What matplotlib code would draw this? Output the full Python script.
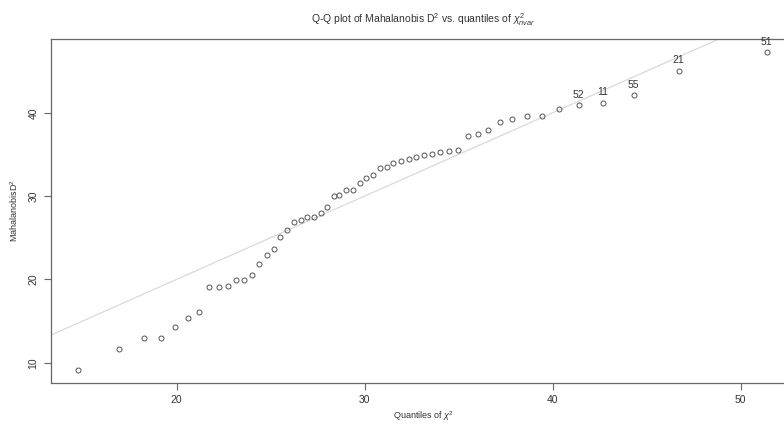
import matplotlib.pyplot as plt

# chi-square quantiles (x) vs sorted squared Mahalanobis distances (y)
chi2_q = [14.77, 16.95, 18.25, 19.15, 19.93, 20.61, 21.21, 21.74, 22.24, 22.71,
          23.16, 23.60, 24.01, 24.40, 24.79, 25.18, 25.52, 25.89, 26.24, 26.60,
          26.95, 27.31, 27.66, 27.98, 28.35, 28.66, 29.01, 29.37, 29.74, 30.07,
          30.43, 30.80, 31.18, 31.53, 31.92, 32.35, 32.73, 33.16, 33.58, 34.03,
          34.49, 34.97, 35.50, 36.03, 36.59, 37.18, 37.86, 38.62, 39.42, 40.32,
          41.40, 42.68, 44.31, 46.71, 51.40]
md2 = [9.09, 11.64, 12.93, 13.00, 14.29, 15.33, 16.09, 19.03, 19.06, 19.23,
       19.89, 19.95, 20.49, 21.81, 22.97, 23.69, 25.13, 25.89, 26.85, 27.09,
       27.45, 27.53, 27.97, 28.73, 30.01, 30.13, 30.70, 30.78, 31.61, 32.17,
       32.57, 33.41, 33.53, 34.01, 34.21, 34.42, 34.73, 34.90, 35.09, 35.33,
       35.41, 35.50, 37.22, 37.49, 37.90, 38.84, 39.22, 39.62, 39.62, 40.46,
       40.90, 41.18, 42.10, 45.05, 47.26]
# ids of the five largest distances
outlier_ids = ['52', '11', '55', '21', '51']

x_ticks = [20, 30, 40, 50]
y_ticks = [10, 20, 30, 40]

plt.rcParams['font.family'] = ['Liberation Sans', 'DejaVu Sans']
plt.rcParams['mathtext.fontset'] = 'custom'
plt.rcParams['mathtext.rm'] = 'Liberation Sans'
plt.rcParams['mathtext.it'] = 'Liberation Sans:italic'

fig = plt.figure(figsize=(7.84, 4.26), dpi=100)
ax = fig.add_axes([51 / 784, 1 - 382.7 / 426, 745 / 784, 343.4 / 426])

grey = '#555555'
txt = '#333333'

ax.axline((0, 0), slope=1, color='#d9d9d9', lw=0.9, zorder=1)
ax.plot(chi2_q, md2, 'o', mfc='none', mec=grey, ms=3.6, mew=0.7, zorder=2)

n = len(md2)
for k, lab in enumerate(outlier_ids):
    i = n - len(outlier_ids) + k
    ax.annotate(lab, (chi2_q[i], md2[i]), xytext=(0, 4), textcoords='offset points',
                ha='center', va='bottom', fontsize=7.5, color=txt)

ax.set_xlim(13.32, 52.95)
ax.set_ylim(7.6, 48.82)
ax.set_xticks(x_ticks)
ax.set_yticks(y_ticks)
ax.tick_params(direction='out', length=5, width=0.8, colors='#666666',
               labelcolor=txt, labelsize=7.5, pad=4)
for lbl in ax.get_yticklabels():
    lbl.set_rotation(90)
    lbl.set_va('center')
for sp in ax.spines.values():
    sp.set_color('#666666')
    sp.set_linewidth(0.9)

ax.set_title(r'Q-Q plot of Mahalanobis D$^2$ vs. quantiles of $\chi^2_{nvar}$',
             fontsize=7.5, color=txt, pad=12)
ax.set_xlabel(r'Quantiles of $\chi^2$', fontsize=6.5, color=txt, labelpad=3)
ax.set_ylabel(r'MahalanobisD$^2$', fontsize=6.5, color=txt, labelpad=6)

fig.savefig('out.png', dpi=100)
